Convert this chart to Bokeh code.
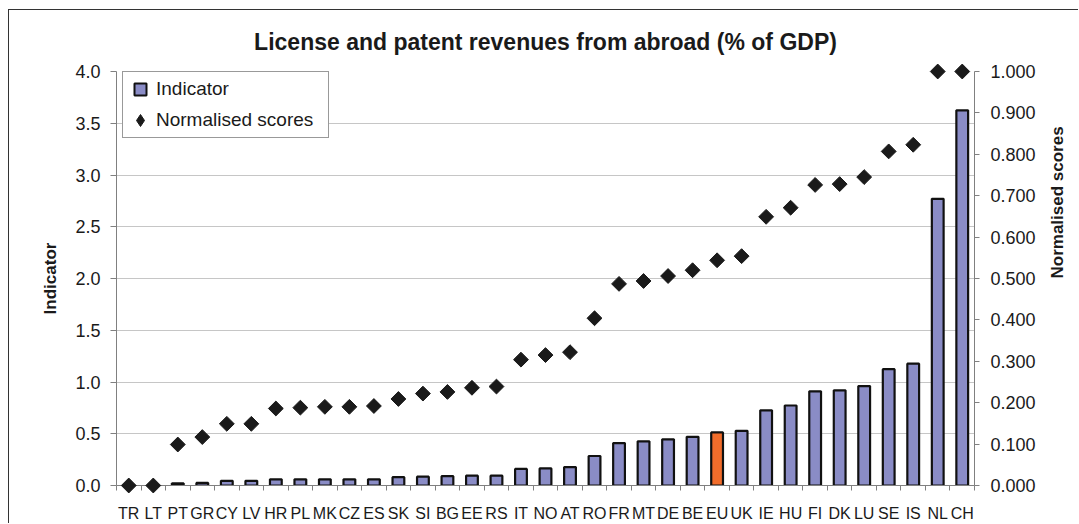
import numpy as np
from bokeh.plotting import figure
from bokeh.models import (Range1d, LinearAxis, FixedTicker, NumeralTickFormatter,
                          ColumnDataSource, Legend, LegendItem)
from bokeh.embed import file_html
from bokeh.resources import INLINE

# ---- data -------------------------------------------------------------
countries = ["TR", "LT", "PT", "GR", "CY", "LV", "HR", "PL", "MK", "CZ", "ES", "SK",
             "SI", "BG", "EE", "RS", "IT", "NO", "AT", "RO", "FR", "MT", "DE", "BE",
             "EU", "UK", "IE", "HU", "FI", "DK", "LU", "SE", "IS", "NL", "CH"]
indicator = [0.0, 0.0, 0.02, 0.025, 0.045, 0.045, 0.06, 0.06, 0.06, 0.06, 0.06, 0.08,
             0.085, 0.09, 0.095, 0.095, 0.16, 0.165, 0.178, 0.285, 0.41, 0.427, 0.446, 0.47,
             0.513, 0.528, 0.726, 0.773, 0.91, 0.92, 0.961, 1.124, 1.177, 2.77, 3.625]
scores = [0.0, 0.0, 0.099, 0.117, 0.149, 0.149, 0.186, 0.188, 0.19, 0.19, 0.192, 0.209,
          0.222, 0.226, 0.236, 0.239, 0.304, 0.315, 0.322, 0.404, 0.487, 0.494, 0.506, 0.52,
          0.544, 0.554, 0.649, 0.671, 0.726, 0.728, 0.745, 0.807, 0.823, 1.0, 1.0]
highlight = "EU"
left_ticks = [0.0, 0.5, 1.0, 1.5, 2.0, 2.5, 3.0, 3.5, 4.0]
right_ticks = [0.0, 0.1, 0.2, 0.3, 0.4, 0.5, 0.6, 0.7, 0.8, 0.9, 1.0]
title_text = "License and patent revenues from abroad (% of GDP)"

# ---- style ------------------------------------------------------------
FONT = "Liberation Sans"
BAR = "#8A8CC6"
HL = "#F26D2B"
INK = "#1a1a1a"
AXIS = "#808080"

n = len(countries)
xs = [i + 0.5 for i in range(n)]
colors = [HL if c == highlight else BAR for c in countries]
src = ColumnDataSource(dict(x=xs, ind=indicator, score=scores, color=colors, name=countries))

p = figure(width=1070, height=514, output_backend="svg", toolbar_location=None,
           x_range=Range1d(0, n), y_range=Range1d(left_ticks[0], left_ticks[-1]),
           min_border_left=107, min_border_right=100, min_border_top=60, min_border_bottom=35)
p.styles = {"margin-left": "8px", "margin-top": "9px",
            "border-top": "1px solid #333333", "border-left": "1px solid #333333"}
p.outline_line_color = None
p.background_fill_color = "white"
p.border_fill_color = "white"

p.title.text = title_text
p.title.align = "center"
p.title.text_font = FONT
p.title.text_font_size = "23px"
p.title.text_font_style = "bold"
p.title.text_color = INK
p.title.standoff = 33

# x axis
xa = p.xaxis[0]
xa.ticker = FixedTicker(ticks=xs, minor_ticks=list(range(n + 1)))
xa.major_label_overrides = {x: c for x, c in zip(xs, countries)}
xa.major_tick_out = 0
xa.major_tick_in = 0
xa.minor_tick_out = 5
xa.minor_tick_in = 0
xa.minor_tick_line_color = AXIS
xa.axis_line_color = AXIS
xa.major_label_text_font = FONT
xa.major_label_text_font_size = "16px"
xa.major_label_text_color = INK
xa.major_label_standoff = 14
p.xgrid.visible = False

# left axis
ya = p.yaxis[0]
ya.ticker = FixedTicker(ticks=left_ticks)
ya.formatter = NumeralTickFormatter(format="0.0")
ya.minor_tick_line_color = None
ya.major_tick_out = 6
ya.major_tick_in = 0
ya.major_tick_line_color = AXIS
ya.axis_line_color = AXIS
ya.major_label_text_font = FONT
ya.major_label_text_font_size = "18px"
ya.major_label_text_color = INK
ya.major_label_standoff = 10
ya.axis_label = "Indicator"
ya.axis_label_text_font = FONT
ya.axis_label_text_font_size = "17px"
ya.axis_label_text_font_style = "bold"
ya.axis_label_text_color = INK
ya.axis_label_standoff = 12
p.ygrid.ticker = FixedTicker(ticks=left_ticks)
p.ygrid.grid_line_color = "#8c8c8c"
p.ygrid.grid_line_dash = "1 1"
p.ygrid.grid_line_width = 1

# right axis
p.extra_y_ranges = {"score": Range1d(right_ticks[0], right_ticks[-1])}
ra = LinearAxis(y_range_name="score", ticker=FixedTicker(ticks=right_ticks),
                formatter=NumeralTickFormatter(format="0.000"))
ra.minor_tick_line_color = None
ra.major_tick_out = 5
ra.major_tick_in = 0
ra.major_tick_line_color = AXIS
ra.axis_line_color = AXIS
ra.major_label_text_font = FONT
ra.major_label_text_font_size = "18px"
ra.major_label_text_color = INK
ra.major_label_standoff = 11
ra.axis_label = "Normalised scores"
ra.axis_label_text_font = FONT
ra.axis_label_text_font_size = "17px"
ra.axis_label_text_font_style = "bold"
ra.axis_label_text_color = INK
ra.axis_label_standoff = 19
ra.axis_label_orientation = np.pi / 2
p.add_layout(ra, "right")

# glyphs
bars = p.vbar(x="x", top="ind", width=0.48, source=src, fill_color="color",
              line_color="#111111", line_width=2.2)
pts = p.scatter(x="x", y="score", source=src, y_range_name="score", marker="square",
                angle=np.pi / 4, size=10.5, fill_color=INK, line_color=INK, level="overlay")

# legend swatch proxies (no visible data point)
proxy_bar = p.scatter(x=[np.nan], y=[np.nan], marker="square", fill_color=BAR,
                      line_color="#111111", line_width=2)
proxy_pt = p.scatter(x=[np.nan], y=[np.nan], marker="diamond", fill_color=INK,
                     line_color=INK, line_width=1)

legend = Legend(items=[LegendItem(label="Indicator", renderers=[proxy_bar]),
                       LegendItem(label="Normalised scores", renderers=[proxy_pt])],
                location=(6, 347), margin=0, padding=2, spacing=1,
                glyph_width=30, glyph_height=30, label_standoff=1, label_width=170,
                label_text_font=FONT, label_text_font_size="19px", label_text_color=INK,
                border_line_color="#333333", border_line_width=1,
                background_fill_color="white", background_fill_alpha=1.0)
p.add_layout(legend, "center")

open("out.html", "w").write(file_html(p, INLINE))
